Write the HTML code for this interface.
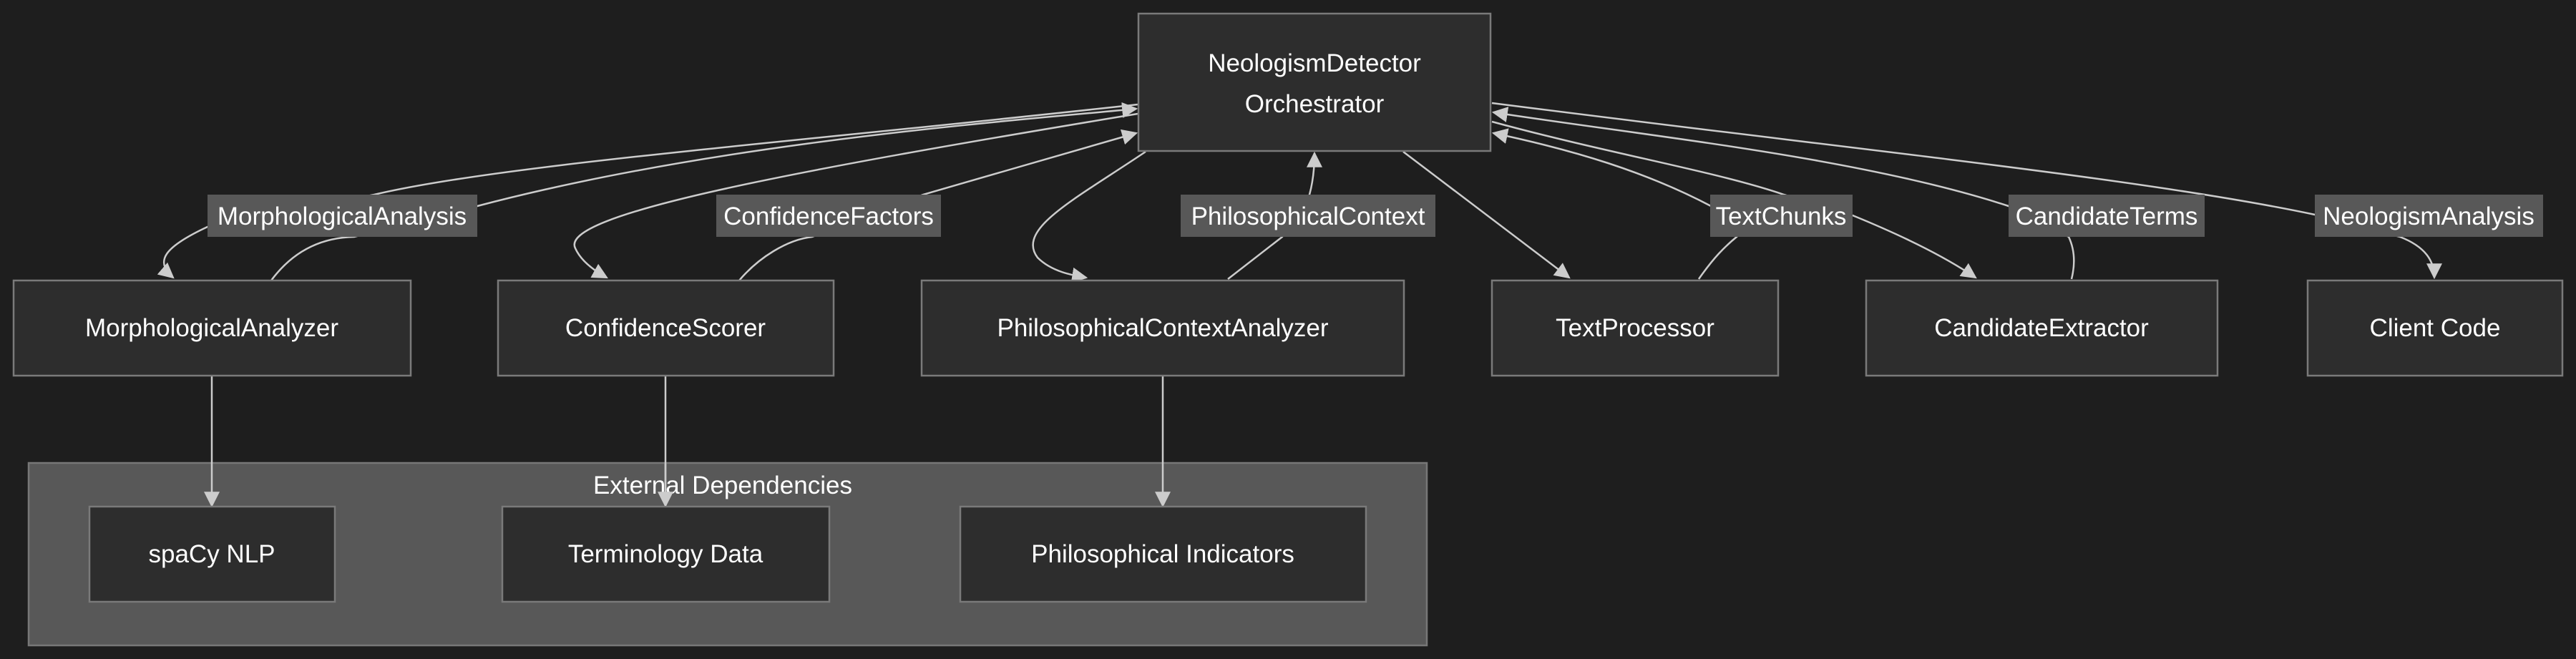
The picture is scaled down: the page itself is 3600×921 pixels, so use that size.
<!DOCTYPE html>
<html><head><meta charset="utf-8"><style>
html,body{margin:0;padding:0;background:#1e1e1e;}
svg{display:block}
text{font-family:"Liberation Sans",sans-serif;fill:#fff;font-size:35px;}
.n{fill:#2d2d2d;stroke:#7a7a7a;stroke-width:2.5}
.l{fill:#585858}
.e{fill:none;stroke:#cccccc;stroke-width:2.5}
</style></head><body>
<svg width="3600" height="921" viewBox="0 0 3600 921" xmlns="http://www.w3.org/2000/svg">
<defs><marker id="a" viewBox="0 0 10 10" refX="9" refY="5" markerWidth="8" markerHeight="8" markerUnits="userSpaceOnUse" orient="auto"><path d="M0,0L10,5L0,10z" fill="#cccccc"/></marker>
<marker id="b" viewBox="0 0 10 10" refX="9" refY="5" markerWidth="22" markerHeight="22" markerUnits="userSpaceOnUse" orient="auto"><path d="M0,0L10,5L0,10z" fill="#cccccc"/></marker></defs>
<rect x="40" y="647" width="1954" height="255" fill="#585858" stroke="#777" stroke-width="2.5"/>
<text x="1010" y="690" text-anchor="middle">External Dependencies</text>
<!-- edges -->
<path class="e" d="M1590,146 C1100,200 700,230 523,272 L290,317 C230,345 215,365 242,388" marker-end="url(#b)"/>
<path class="e" d="M379,392 C410,350 450,332 495,331 L667,288 C1000,200 1400,170 1588,152" marker-end="url(#b)"/>
<path class="e" d="M1590,159 C1100,240 780,300 804,347 C812,365 830,378 848,388" marker-end="url(#b)"/>
<path class="e" d="M1033,392 C1060,360 1100,335 1135,331 L1290,272 L1588,186" marker-end="url(#b)"/>
<path class="e" d="M1601,212 C1500,280 1420,320 1450,360 C1470,380 1500,385 1518,388" marker-end="url(#b)"/>
<path class="e" d="M1716,390 L1792,331 L1830,272 C1836,250 1837,230 1837,214" marker-end="url(#b)"/>
<path class="e" d="M1961,212 L2193,388" marker-end="url(#b)"/>
<path class="e" d="M2374,390 C2395,360 2410,345 2427,331 L2391,288 C2300,240 2200,210 2087,186" marker-end="url(#b)"/>
<path class="e" d="M2085,170 C2250,215 2400,240 2493,272 L2589,301 C2660,330 2720,360 2761,388" marker-end="url(#b)"/>
<path class="e" d="M2895,390 C2900,370 2900,350 2891,331 L2807,288 C2600,220 2300,190 2087,157" marker-end="url(#b)"/>
<path class="e" d="M2085,144 C2600,210 3000,250 3235,300 L3354,331 C3390,345 3402,365 3402,388" marker-end="url(#b)"/>
<path class="e" d="M296,525 L296,707" marker-end="url(#b)"/>
<path class="e" d="M930,525 L930,707" marker-end="url(#b)"/>
<path class="e" d="M1625,525 L1625,707" marker-end="url(#b)"/>
<!-- labels -->
<rect class="l" x="290" y="272" width="377" height="59"/><text x="478" y="314" text-anchor="middle">MorphologicalAnalysis</text>
<rect class="l" x="1001" y="272" width="314" height="59"/><text x="1158" y="314" text-anchor="middle">ConfidenceFactors</text>
<rect class="l" x="1650" y="272" width="356" height="59"/><text x="1828" y="314" text-anchor="middle">PhilosophicalContext</text>
<rect class="l" x="2390" y="272" width="199" height="59"/><text x="2489" y="314" text-anchor="middle">TextChunks</text>
<rect class="l" x="2807" y="272" width="274" height="59"/><text x="2944" y="314" text-anchor="middle">CandidateTerms</text>
<rect class="l" x="3235" y="272" width="319" height="59"/><text x="3394" y="314" text-anchor="middle">NeologismAnalysis</text>
<!-- nodes -->
<rect class="n" x="1591" y="19" width="492" height="192"/>
<text x="1837" y="100" text-anchor="middle">NeologismDetector</text>
<text x="1837" y="157" text-anchor="middle">Orchestrator</text>
<rect class="n" x="19" y="392" width="555" height="133"/><text x="296" y="470" text-anchor="middle">MorphologicalAnalyzer</text>
<rect class="n" x="696" y="392" width="469" height="133"/><text x="930" y="470" text-anchor="middle">ConfidenceScorer</text>
<rect class="n" x="1288" y="392" width="674" height="133"/><text x="1625" y="470" text-anchor="middle">PhilosophicalContextAnalyzer</text>
<rect class="n" x="2085" y="392" width="400" height="133"/><text x="2285" y="470" text-anchor="middle">TextProcessor</text>
<rect class="n" x="2608" y="392" width="491" height="133"/><text x="2853" y="470" text-anchor="middle">CandidateExtractor</text>
<rect class="n" x="3225" y="392" width="356" height="133"/><text x="3403" y="470" text-anchor="middle">Client Code</text>
<rect class="n" x="125" y="708" width="343" height="133"/><text x="296" y="786" text-anchor="middle">spaCy NLP</text>
<rect class="n" x="702" y="708" width="457" height="133"/><text x="930" y="786" text-anchor="middle">Terminology Data</text>
<rect class="n" x="1342" y="708" width="567" height="133"/><text x="1625" y="786" text-anchor="middle">Philosophical Indicators</text>
<path class="e" d="M930,648 L930,707" />
</svg>
</body></html>
